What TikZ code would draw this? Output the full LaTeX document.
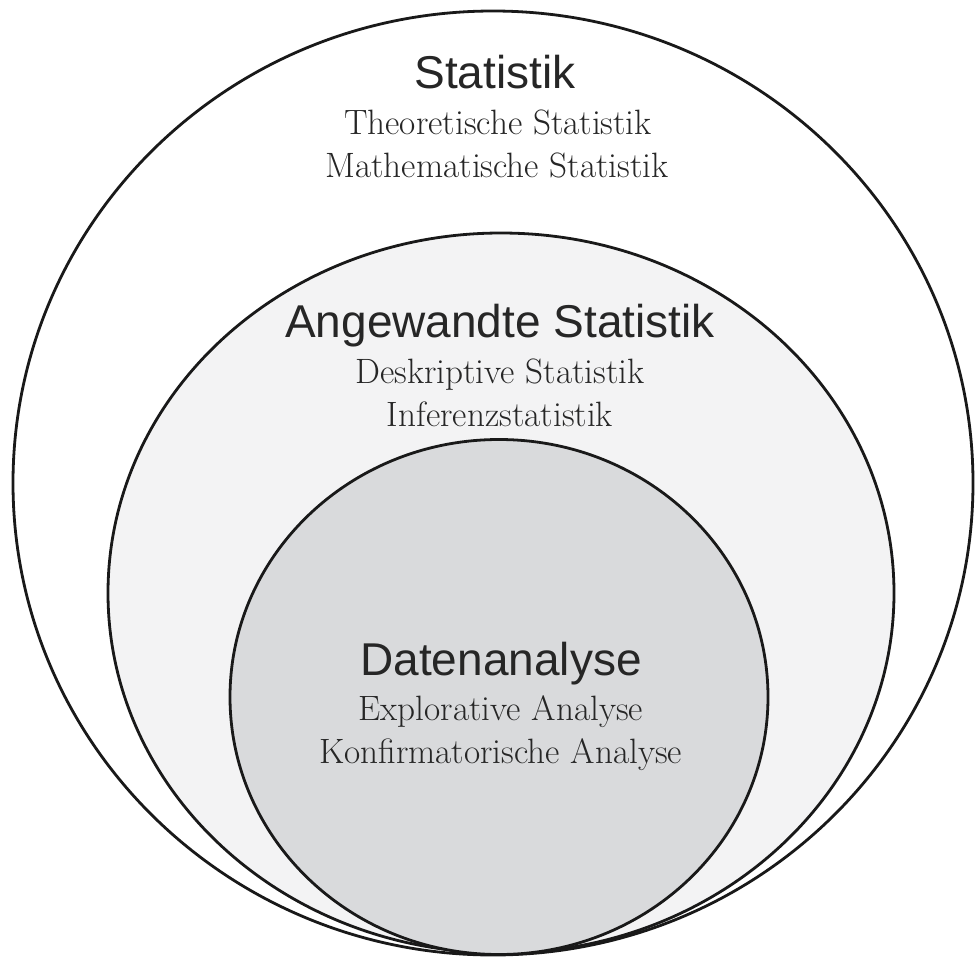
\documentclass[tikz,border=0pt]{standalone}
\usepackage{fontspec}
\setsansfont{Liberation Sans}
\usetikzlibrary{shapes.geometric}
\definecolor{midgray}{RGB}{243,243,244}
\definecolor{innergray}{RGB}{217,218,220}

\begin{document}
\begin{tikzpicture}[x=0.5pt,y=-0.5pt]
                        \tikzstyle{ring}=[ellipse, draw=black!90, line width=1.4pt, inner sep=0pt]
                        \tikzstyle{head}=[anchor=base, text=black!85, font=\sffamily\fontsize{23}{26}\selectfont]
                        \tikzstyle{sub}=[anchor=base, text=black!85, font=\fontsize{17.6}{21.5}\selectfont]
                        \useasboundingbox (0,0) rectangle (975,958);
                        % the three nested sets
                        \node[ring, fill=white, minimum width=480pt, minimum height=472pt] (outer) at (493,483) {};
                        \node[ring, fill=midgray, minimum width=393pt, minimum height=360pt] (middle) at (501,593) {};
                        \node[ring, fill=innergray, minimum width=269pt, minimum height=257.5pt] (inner) at (499,697) {};
                        % labels
                        \node[head] (stat) at (495,88) {Statistik};
                        \node[sub] (theo) at (498,134) {Theoretische Statistik};
                        \node[sub] (math) at (497,177) {Mathematische Statistik};
                        \node[head] (angew) at (500,337) {Angewandte Statistik};
                        \node[sub] (deskr) at (500,383) {Deskriptive Statistik};
                        \node[sub] (infer) at (500,426) {Inferenzstatistik};
                        \node[head] (daten) at (501,675) {Datenanalyse};
                        \node[sub] (explo) at (501,720) {Explorative Analyse};
                        \node[sub] (konf) at (501,763) {Konfirmatorische Analyse};
                    \end{tikzpicture}
\end{document}
